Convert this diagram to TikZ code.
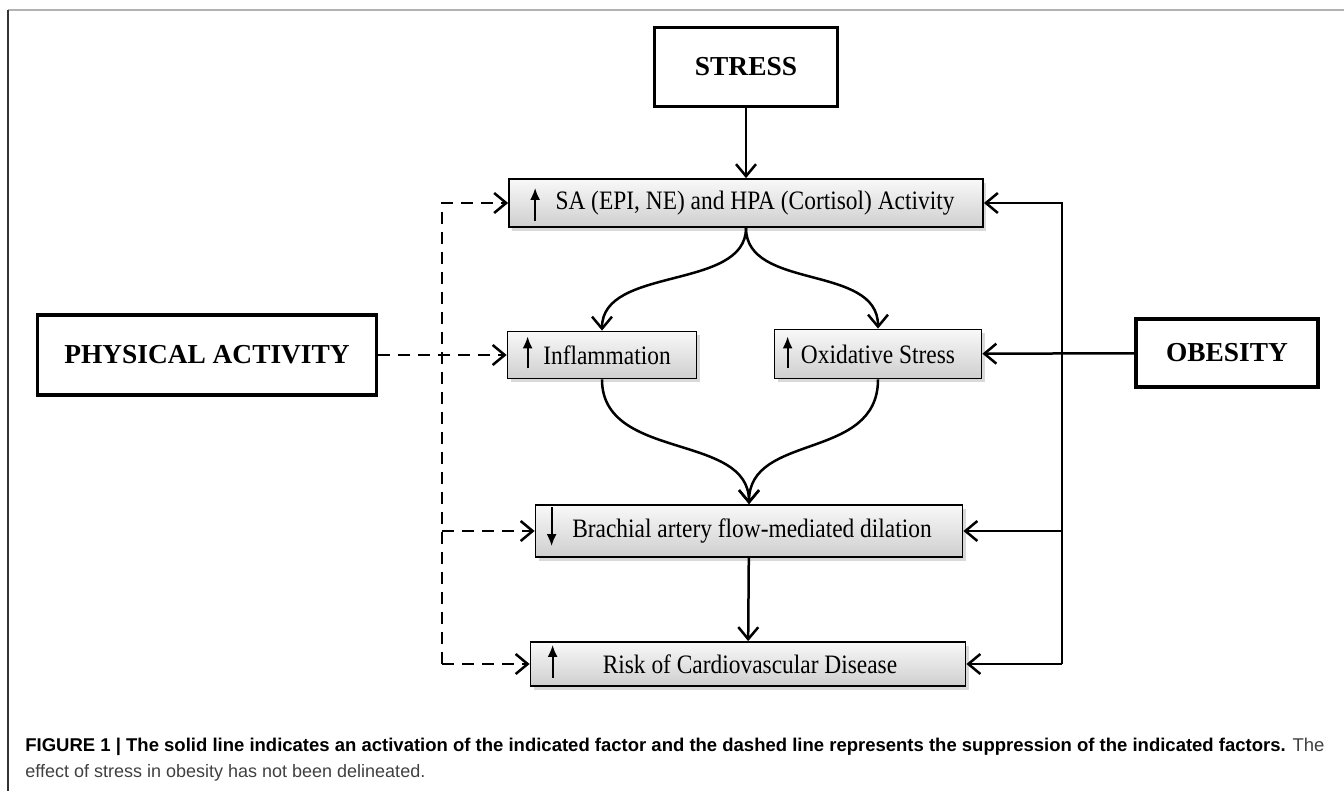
\documentclass[tikz,border=0pt]{standalone}
\usepackage{fontspec}
\setmainfont{Liberation Serif}
\newfontfamily\boxfont[FakeStretch=0.88]{Liberation Serif}
\newfontfamily\capfont{Liberation Sans}
\usetikzlibrary{arrows.meta,shadows}

\tikzset{
  keybox/.style={draw, line width=1.8pt, fill=white, font=\fontsize{13.7}{16}\selectfont\bfseries},
  grabox/.style={draw, line width=0.9pt, top color=gray!5, bottom color=gray!38,
    drop shadow={shadow xshift=1.5pt, shadow yshift=-1.8pt, opacity=0.3},
    font=\boxfont\fontsize{13.3}{16}\selectfont},
  conn/.style={line width=1.25pt, -{Straight Barb[length=6pt,width=10pt]}},
  dashconn/.style={conn, dash pattern=on 6pt off 4pt},
  trend/.style={line width=1pt, -{Latex[length=6pt,width=5pt]}},
  captext/.style={anchor=base west, inner sep=0pt, font=\capfont\fontsize{9}{11}\selectfont},
}

\begin{document}
\begin{tikzpicture}[x=0.5pt, y=-0.5pt]
\useasboundingbox ( 0, 0 ) rectangle ( 1344, 791 );

% Frame
\draw [gray!60, line width=0.8pt] ( 8, 10 ) -- ( 1344, 10 );
\draw [black!80, line width=0.8pt] ( 8, 10 ) -- ( 8, 791 );

% Factors
\node (stress) at ( 746, 67 ) [keybox, minimum width=91.5pt, minimum height=39.5pt] {STRESS};
\node (pa) at ( 207, 355 ) [keybox, minimum width=169.5pt, minimum height=40pt] {PHYSICAL ACTIVITY};
\node (obes) at ( 1227, 353 ) [keybox, minimum width=91pt, minimum height=34pt] {OBESITY};

% Responses
\node (sa) at ( 746, 203 ) [grabox, minimum width=237pt, minimum height=24pt] {\hspace{9pt}SA (EPI, NE) and HPA (Cortisol) Activity};
\node (infl) at ( 602, 355 ) [grabox, minimum width=94.5pt, minimum height=23.5pt] {\hspace{5pt}Inflammation};
\node (oxid) at ( 878, 354 ) [grabox, minimum width=103.5pt, minimum height=24.5pt] {Oxidative Stress};
\node (bafmd) at ( 749, 531 ) [grabox, minimum width=213.5pt, minimum height=26pt] {\hspace{3pt}Brachial artery flow-mediated dilation};
\node (risk) at ( 748, 664 ) [grabox, minimum width=217.5pt, minimum height=22pt] {\hspace{2pt}Risk of Cardiovascular Disease};

% Up / down marks
\draw [trend] ([shift={( 27, -7 )}]sa.south west) -- ++( 0, -33 );
\draw [trend] ([shift={( 21, -11 )}]infl.south west) -- ++( 0, -32 );
\draw [trend] ([shift={( 14, -11 )}]oxid.south west) -- ++( 0, -32 );
\draw [trend] ([shift={( 17, 3 )}]bafmd.north west) -- ++( 0, 39 );
\draw [trend] ([shift={( 23, -9 )}]risk.south west) -- ++( 0, -33 );

% Stress pathway
\draw [conn] (stress) -- (sa);
\draw [conn] (sa.south) .. controls +( 0, 63 ) and +( 0, -65 ) .. (infl.north);
\draw [conn] (sa.south) .. controls +( 0, 63 ) and +( 0, -65 ) .. (oxid.north);
\draw [conn] (infl.south) .. controls +( 0, 82 ) and +( 0, -72 ) .. (bafmd.north);
\draw [conn] (oxid.south) .. controls +( 0, 82 ) and +( 0, -72 ) .. (bafmd.north);
\draw [conn] (bafmd) -- (risk);

% Physical activity (dashed)
\coordinate (pat) at (442, 203);
\coordinate (pab) at (pat |- risk.west);
\draw [dashconn] (pab) -- (pat) -- (sa.west);
\draw [dashconn] (pa) -- (infl);
\draw [dashconn] (pat |- bafmd.west) -- (bafmd.west);
\draw [dashconn] (pab) -- (risk.west);

% Obesity (solid)
\coordinate (obt) at (1062, 203);
\coordinate (obb) at (obt |- risk.east);
\draw [conn] (obb) -- (obt) -- (sa.east);
\draw [conn] (obes) -- (oxid);
\draw [conn] (obt |- bafmd.east) -- (bafmd.east);
\draw [conn] (obb) -- (risk.east);

% Caption
\node (cap1) at ( 25, 751 ) [captext, font=\capfont\fontsize{9.25}{11}\selectfont] {\textbf{FIGURE 1 | The solid line indicates an activation of the indicated factor and the dashed line represents the suppression of the indicated factors.} {\color{black!75}The}};
\node (cap2) at ( 25, 777 ) [captext, black!75] {effect of stress in obesity has not been delineated.};

\end{tikzpicture}
\end{document}
